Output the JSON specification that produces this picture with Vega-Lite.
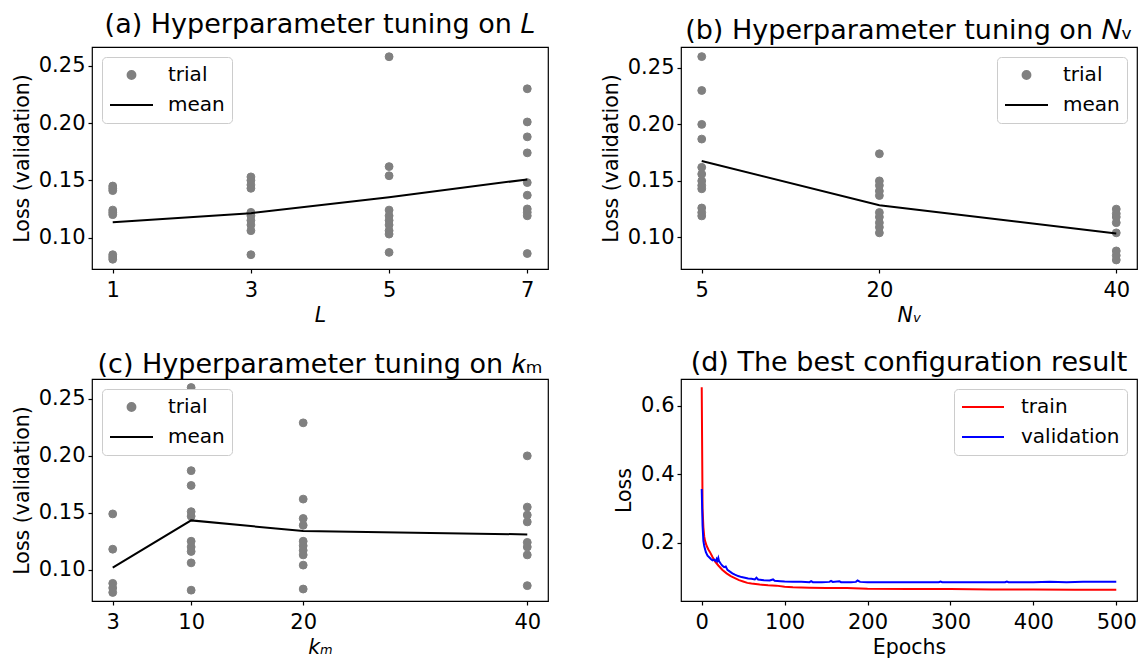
{
  "$schema": "https://vega.github.io/schema/vega-lite/v6.json",
  "background": "white",
  "padding": {"left": 11, "top": 10, "right": 5, "bottom": 5},
  "columns": 2,
  "spacing": {"row": 110, "column": 133},
  "bounds": "flush",
  "resolve": {"scale": {"shape": "independent", "color": "independent", "size": "independent"}, "legend": {"shape": "independent", "color": "independent", "size": "independent"}},
  "datasets": {
    "a_trial": [
      {"L": 1, "loss": 0.145, "series": "trial"}, {"L": 1, "loss": 0.143, "series": "trial"}, {"L": 1, "loss": 0.141, "series": "trial"},
      {"L": 1, "loss": 0.124, "series": "trial"}, {"L": 1, "loss": 0.122, "series": "trial"}, {"L": 1, "loss": 0.120, "series": "trial"},
      {"L": 1, "loss": 0.085, "series": "trial"}, {"L": 1, "loss": 0.083, "series": "trial"}, {"L": 1, "loss": 0.081, "series": "trial"},
      {"L": 3, "loss": 0.153, "series": "trial"}, {"L": 3, "loss": 0.150, "series": "trial"}, {"L": 3, "loss": 0.146, "series": "trial"},
      {"L": 3, "loss": 0.143, "series": "trial"}, {"L": 3, "loss": 0.122, "series": "trial"}, {"L": 3, "loss": 0.119, "series": "trial"},
      {"L": 3, "loss": 0.115, "series": "trial"}, {"L": 3, "loss": 0.111, "series": "trial"}, {"L": 3, "loss": 0.106, "series": "trial"},
      {"L": 3, "loss": 0.085, "series": "trial"},
      {"L": 5, "loss": 0.258, "series": "trial"}, {"L": 5, "loss": 0.162, "series": "trial"}, {"L": 5, "loss": 0.154, "series": "trial"},
      {"L": 5, "loss": 0.124, "series": "trial"}, {"L": 5, "loss": 0.119, "series": "trial"}, {"L": 5, "loss": 0.115, "series": "trial"},
      {"L": 5, "loss": 0.111, "series": "trial"}, {"L": 5, "loss": 0.106, "series": "trial"}, {"L": 5, "loss": 0.103, "series": "trial"},
      {"L": 5, "loss": 0.087, "series": "trial"},
      {"L": 7, "loss": 0.230, "series": "trial"}, {"L": 7, "loss": 0.201, "series": "trial"}, {"L": 7, "loss": 0.188, "series": "trial"},
      {"L": 7, "loss": 0.174, "series": "trial"}, {"L": 7, "loss": 0.148, "series": "trial"}, {"L": 7, "loss": 0.137, "series": "trial"},
      {"L": 7, "loss": 0.125, "series": "trial"}, {"L": 7, "loss": 0.122, "series": "trial"}, {"L": 7, "loss": 0.119, "series": "trial"},
      {"L": 7, "loss": 0.086, "series": "trial"}
    ],
    "a_mean": [
      {"L": 1, "loss": 0.1134}, {"L": 3, "loss": 0.1213}, {"L": 5, "loss": 0.1353}, {"L": 7, "loss": 0.1508}
    ],
    "b_trial": [
      {"Nv": 5, "loss": 0.260, "series": "trial"}, {"Nv": 5, "loss": 0.230, "series": "trial"}, {"Nv": 5, "loss": 0.200, "series": "trial"},
      {"Nv": 5, "loss": 0.187, "series": "trial"}, {"Nv": 5, "loss": 0.162, "series": "trial"}, {"Nv": 5, "loss": 0.156, "series": "trial"},
      {"Nv": 5, "loss": 0.150, "series": "trial"}, {"Nv": 5, "loss": 0.146, "series": "trial"}, {"Nv": 5, "loss": 0.143, "series": "trial"},
      {"Nv": 5, "loss": 0.126, "series": "trial"}, {"Nv": 5, "loss": 0.122, "series": "trial"}, {"Nv": 5, "loss": 0.119, "series": "trial"},
      {"Nv": 20, "loss": 0.174, "series": "trial"}, {"Nv": 20, "loss": 0.150, "series": "trial"}, {"Nv": 20, "loss": 0.146, "series": "trial"},
      {"Nv": 20, "loss": 0.141, "series": "trial"}, {"Nv": 20, "loss": 0.137, "series": "trial"}, {"Nv": 20, "loss": 0.122, "series": "trial"},
      {"Nv": 20, "loss": 0.118, "series": "trial"}, {"Nv": 20, "loss": 0.113, "series": "trial"}, {"Nv": 20, "loss": 0.109, "series": "trial"},
      {"Nv": 20, "loss": 0.104, "series": "trial"},
      {"Nv": 40, "loss": 0.125, "series": "trial"}, {"Nv": 40, "loss": 0.121, "series": "trial"}, {"Nv": 40, "loss": 0.118, "series": "trial"},
      {"Nv": 40, "loss": 0.113, "series": "trial"}, {"Nv": 40, "loss": 0.104, "series": "trial"}, {"Nv": 40, "loss": 0.088, "series": "trial"},
      {"Nv": 40, "loss": 0.084, "series": "trial"}, {"Nv": 40, "loss": 0.080, "series": "trial"}
    ],
    "b_mean": [
      {"Nv": 5, "loss": 0.1676}, {"Nv": 20, "loss": 0.1285}, {"Nv": 40, "loss": 0.1035}
    ],
    "c_trial": [
      {"km": 3, "loss": 0.149, "series": "trial"}, {"km": 3, "loss": 0.118, "series": "trial"}, {"km": 3, "loss": 0.088, "series": "trial"},
      {"km": 3, "loss": 0.084, "series": "trial"}, {"km": 3, "loss": 0.080, "series": "trial"},
      {"km": 10, "loss": 0.260, "series": "trial"}, {"km": 10, "loss": 0.187, "series": "trial"}, {"km": 10, "loss": 0.174, "series": "trial"},
      {"km": 10, "loss": 0.151, "series": "trial"}, {"km": 10, "loss": 0.147, "series": "trial"}, {"km": 10, "loss": 0.125, "series": "trial"},
      {"km": 10, "loss": 0.120, "series": "trial"}, {"km": 10, "loss": 0.116, "series": "trial"}, {"km": 10, "loss": 0.106, "series": "trial"},
      {"km": 10, "loss": 0.082, "series": "trial"},
      {"km": 20, "loss": 0.229, "series": "trial"}, {"km": 20, "loss": 0.162, "series": "trial"}, {"km": 20, "loss": 0.145, "series": "trial"},
      {"km": 20, "loss": 0.139, "series": "trial"}, {"km": 20, "loss": 0.125, "series": "trial"}, {"km": 20, "loss": 0.121, "series": "trial"},
      {"km": 20, "loss": 0.117, "series": "trial"}, {"km": 20, "loss": 0.113, "series": "trial"}, {"km": 20, "loss": 0.104, "series": "trial"},
      {"km": 20, "loss": 0.083, "series": "trial"},
      {"km": 40, "loss": 0.200, "series": "trial"}, {"km": 40, "loss": 0.155, "series": "trial"}, {"km": 40, "loss": 0.148, "series": "trial"},
      {"km": 40, "loss": 0.142, "series": "trial"}, {"km": 40, "loss": 0.124, "series": "trial"}, {"km": 40, "loss": 0.120, "series": "trial"},
      {"km": 40, "loss": 0.113, "series": "trial"}, {"km": 40, "loss": 0.086, "series": "trial"}
    ],
    "c_mean": [
      {"km": 3, "loss": 0.1018}, {"km": 10, "loss": 0.1433}, {"km": 20, "loss": 0.1339}, {"km": 40, "loss": 0.131}
    ],
    "d_loss": [
      {"epoch": 0, "loss": 0.655, "series": "train"}, {"epoch": 1, "loss": 0.300, "series": "train"}, {"epoch": 2, "loss": 0.245, "series": "train"},
      {"epoch": 3, "loss": 0.218, "series": "train"}, {"epoch": 4, "loss": 0.205, "series": "train"}, {"epoch": 6, "loss": 0.190, "series": "train"},
      {"epoch": 8, "loss": 0.180, "series": "train"}, {"epoch": 10, "loss": 0.172, "series": "train"}, {"epoch": 13, "loss": 0.158, "series": "train"},
      {"epoch": 16, "loss": 0.145, "series": "train"}, {"epoch": 20, "loss": 0.133, "series": "train"}, {"epoch": 25, "loss": 0.120, "series": "train"},
      {"epoch": 30, "loss": 0.110, "series": "train"}, {"epoch": 35, "loss": 0.102, "series": "train"}, {"epoch": 40, "loss": 0.096, "series": "train"},
      {"epoch": 45, "loss": 0.090, "series": "train"}, {"epoch": 50, "loss": 0.086, "series": "train"}, {"epoch": 55, "loss": 0.082, "series": "train"},
      {"epoch": 60, "loss": 0.080, "series": "train"}, {"epoch": 70, "loss": 0.077, "series": "train"}, {"epoch": 80, "loss": 0.075, "series": "train"},
      {"epoch": 90, "loss": 0.074, "series": "train"}, {"epoch": 100, "loss": 0.071, "series": "train"}, {"epoch": 110, "loss": 0.069, "series": "train"},
      {"epoch": 130, "loss": 0.068, "series": "train"}, {"epoch": 150, "loss": 0.067, "series": "train"}, {"epoch": 175, "loss": 0.067, "series": "train"},
      {"epoch": 200, "loss": 0.065, "series": "train"}, {"epoch": 250, "loss": 0.064, "series": "train"}, {"epoch": 300, "loss": 0.064, "series": "train"},
      {"epoch": 350, "loss": 0.063, "series": "train"}, {"epoch": 400, "loss": 0.063, "series": "train"}, {"epoch": 450, "loss": 0.062, "series": "train"},
      {"epoch": 500, "loss": 0.062, "series": "train"},
      {"epoch": 0, "loss": 0.357, "series": "validation"}, {"epoch": 1, "loss": 0.250, "series": "validation"}, {"epoch": 2, "loss": 0.205, "series": "validation"},
      {"epoch": 3, "loss": 0.190, "series": "validation"}, {"epoch": 5, "loss": 0.172, "series": "validation"}, {"epoch": 7, "loss": 0.162, "series": "validation"},
      {"epoch": 9, "loss": 0.157, "series": "validation"}, {"epoch": 11, "loss": 0.152, "series": "validation"}, {"epoch": 13, "loss": 0.148, "series": "validation"},
      {"epoch": 15, "loss": 0.150, "series": "validation"}, {"epoch": 17, "loss": 0.146, "series": "validation"}, {"epoch": 18, "loss": 0.152, "series": "validation"},
      {"epoch": 19, "loss": 0.147, "series": "validation"}, {"epoch": 20, "loss": 0.155, "series": "validation"}, {"epoch": 21, "loss": 0.145, "series": "validation"},
      {"epoch": 23, "loss": 0.138, "series": "validation"}, {"epoch": 25, "loss": 0.132, "series": "validation"}, {"epoch": 27, "loss": 0.128, "series": "validation"},
      {"epoch": 29, "loss": 0.130, "series": "validation"}, {"epoch": 31, "loss": 0.120, "series": "validation"}, {"epoch": 34, "loss": 0.115, "series": "validation"},
      {"epoch": 37, "loss": 0.110, "series": "validation"}, {"epoch": 40, "loss": 0.106, "series": "validation"}, {"epoch": 44, "loss": 0.102, "series": "validation"},
      {"epoch": 48, "loss": 0.099, "series": "validation"}, {"epoch": 52, "loss": 0.097, "series": "validation"}, {"epoch": 56, "loss": 0.095, "series": "validation"},
      {"epoch": 60, "loss": 0.094, "series": "validation"}, {"epoch": 64, "loss": 0.092, "series": "validation"}, {"epoch": 66, "loss": 0.097, "series": "validation"},
      {"epoch": 68, "loss": 0.092, "series": "validation"}, {"epoch": 75, "loss": 0.090, "series": "validation"}, {"epoch": 82, "loss": 0.089, "series": "validation"},
      {"epoch": 86, "loss": 0.092, "series": "validation"}, {"epoch": 88, "loss": 0.088, "series": "validation"}, {"epoch": 95, "loss": 0.087, "series": "validation"},
      {"epoch": 100, "loss": 0.086, "series": "validation"}, {"epoch": 110, "loss": 0.085, "series": "validation"}, {"epoch": 120, "loss": 0.085, "series": "validation"},
      {"epoch": 130, "loss": 0.084, "series": "validation"}, {"epoch": 132, "loss": 0.087, "series": "validation"}, {"epoch": 134, "loss": 0.084, "series": "validation"},
      {"epoch": 145, "loss": 0.084, "series": "validation"}, {"epoch": 154, "loss": 0.085, "series": "validation"}, {"epoch": 156, "loss": 0.088, "series": "validation"},
      {"epoch": 158, "loss": 0.085, "series": "validation"}, {"epoch": 166, "loss": 0.087, "series": "validation"}, {"epoch": 168, "loss": 0.084, "series": "validation"},
      {"epoch": 180, "loss": 0.084, "series": "validation"}, {"epoch": 186, "loss": 0.085, "series": "validation"}, {"epoch": 188, "loss": 0.089, "series": "validation"},
      {"epoch": 191, "loss": 0.085, "series": "validation"}, {"epoch": 200, "loss": 0.084, "series": "validation"}, {"epoch": 220, "loss": 0.084, "series": "validation"},
      {"epoch": 240, "loss": 0.084, "series": "validation"}, {"epoch": 260, "loss": 0.084, "series": "validation"}, {"epoch": 286, "loss": 0.084, "series": "validation"},
      {"epoch": 288, "loss": 0.086, "series": "validation"}, {"epoch": 290, "loss": 0.084, "series": "validation"}, {"epoch": 320, "loss": 0.084, "series": "validation"},
      {"epoch": 340, "loss": 0.084, "series": "validation"}, {"epoch": 366, "loss": 0.084, "series": "validation"}, {"epoch": 368, "loss": 0.086, "series": "validation"},
      {"epoch": 370, "loss": 0.084, "series": "validation"}, {"epoch": 400, "loss": 0.084, "series": "validation"}, {"epoch": 420, "loss": 0.085, "series": "validation"},
      {"epoch": 440, "loss": 0.084, "series": "validation"}, {"epoch": 460, "loss": 0.085, "series": "validation"}, {"epoch": 480, "loss": 0.085, "series": "validation"},
      {"epoch": 500, "loss": 0.085, "series": "validation"}
    ]
  },
  "concat": [
    {
      "width": 456, "height": 222,
      "title": {"text": "(a) Hyperparameter tuning on 𝐿", "offset": 8},
      "layer": [
        {
          "data": {"name": "a_trial"},
          "mark": {"type": "point", "filled": false, "fill": "#808080", "fillOpacity": 1, "strokeWidth": 1, "opacity": 1},
          "encoding": {
            "x": {"field": "L", "type": "quantitative", "scale": {"domain": [0.7, 7.3], "nice": false, "zero": false}, "axis": {"values": [1, 3, 5, 7], "format": "d", "title": "L", "titleFontStyle": "italic"}},
            "y": {"field": "loss", "type": "quantitative", "scale": {"domain": [0.0725, 0.2665], "nice": false, "zero": false}, "axis": {"values": [0.1, 0.15, 0.2, 0.25], "format": ".2f", "title": "Loss (validation)"}},
            "color": {"field": "series", "type": "nominal", "scale": {"domain": ["trial", "mean"], "range": ["#808080", "#000000"]}},
            "size": {"field": "series", "type": "nominal", "scale": {"domain": ["trial", "mean"], "range": [62, 1849], "padding": 0}},
            "shape": {"field": "series", "type": "nominal", "scale": {"domain": ["trial", "mean"], "range": ["circle", "stroke"]},
              "legend": {"title": null, "orient": "top-left", "offset": 10, "fillColor": "white", "strokeColor": "#cccccc", "cornerRadius": 4, "padding": 7, "clipHeight": 22, "rowPadding": 8, "labelFontSize": 20, "labelOffset": 14, "labelColor": "black", "symbolStrokeWidth": 2}}
          }
        },
        {
          "data": {"name": "a_mean"},
          "mark": {"type": "line", "color": "black", "strokeWidth": 2},
          "encoding": {"x": {"field": "L", "type": "quantitative"}, "y": {"field": "loss", "type": "quantitative"}}
        }
      ]
    },
    {
      "width": 456, "height": 222,
      "title": {"text": "(b) Hyperparameter tuning on 𝑁ᵥ", "offset": 2},
      "layer": [
        {
          "data": {"name": "b_trial"},
          "mark": {"type": "point", "filled": false, "fill": "#808080", "fillOpacity": 1, "strokeWidth": 1, "opacity": 1},
          "encoding": {
            "x": {"field": "Nv", "type": "quantitative", "scale": {"domain": [3.25, 41.75], "nice": false, "zero": false}, "axis": {"values": [5, 20, 40], "format": "d", "title": "Nᵥ", "titleFontStyle": "italic"}},
            "y": {"field": "loss", "type": "quantitative", "scale": {"domain": [0.072, 0.2685], "nice": false, "zero": false}, "axis": {"values": [0.1, 0.15, 0.2, 0.25], "format": ".2f", "title": "Loss (validation)"}},
            "color": {"field": "series", "type": "nominal", "scale": {"domain": ["trial", "mean"], "range": ["#808080", "#000000"]}},
            "size": {"field": "series", "type": "nominal", "scale": {"domain": ["trial", "mean"], "range": [62, 1849], "padding": 0}},
            "shape": {"field": "series", "type": "nominal", "scale": {"domain": ["trial", "mean"], "range": ["circle", "stroke"]},
              "legend": {"title": null, "orient": "top-right", "offset": 10, "fillColor": "white", "strokeColor": "#cccccc", "cornerRadius": 4, "padding": 7, "clipHeight": 22, "rowPadding": 8, "labelFontSize": 20, "labelOffset": 14, "labelColor": "black", "symbolStrokeWidth": 2}}
          }
        },
        {
          "data": {"name": "b_mean"},
          "mark": {"type": "line", "color": "black", "strokeWidth": 2},
          "encoding": {"x": {"field": "Nv", "type": "quantitative"}, "y": {"field": "loss", "type": "quantitative"}}
        }
      ]
    },
    {
      "width": 456, "height": 222,
      "title": {"text": "(c) Hyperparameter tuning on 𝑘ₘ", "offset": 0},
      "layer": [
        {
          "data": {"name": "c_trial"},
          "mark": {"type": "point", "filled": false, "fill": "#808080", "fillOpacity": 1, "strokeWidth": 1, "opacity": 1},
          "encoding": {
            "x": {"field": "km", "type": "quantitative", "scale": {"domain": [1.15, 41.85], "nice": false, "zero": false}, "axis": {"values": [3, 10, 20, 40], "format": "d", "title": "kₘ", "titleFontStyle": "italic"}},
            "y": {"field": "loss", "type": "quantitative", "scale": {"domain": [0.0725, 0.2675], "nice": false, "zero": false}, "axis": {"values": [0.1, 0.15, 0.2, 0.25], "format": ".2f", "title": "Loss (validation)"}},
            "color": {"field": "series", "type": "nominal", "scale": {"domain": ["trial", "mean"], "range": ["#808080", "#000000"]}},
            "size": {"field": "series", "type": "nominal", "scale": {"domain": ["trial", "mean"], "range": [62, 1849], "padding": 0}},
            "shape": {"field": "series", "type": "nominal", "scale": {"domain": ["trial", "mean"], "range": ["circle", "stroke"]},
              "legend": {"title": null, "orient": "top-left", "offset": 10, "fillColor": "white", "strokeColor": "#cccccc", "cornerRadius": 4, "padding": 7, "clipHeight": 22, "rowPadding": 8, "labelFontSize": 20, "labelOffset": 14, "labelColor": "black", "symbolStrokeWidth": 2}}
          }
        },
        {
          "data": {"name": "c_mean"},
          "mark": {"type": "line", "color": "black", "strokeWidth": 2},
          "encoding": {"x": {"field": "km", "type": "quantitative"}, "y": {"field": "loss", "type": "quantitative"}}
        }
      ]
    },
    {
      "width": 456, "height": 222,
      "title": {"text": "(d) The best configuration result", "offset": 2},
      "data": {"name": "d_loss"},
      "mark": {"type": "line", "strokeWidth": 2},
      "encoding": {
        "x": {"field": "epoch", "type": "quantitative", "scale": {"domain": [-25, 525], "nice": false, "zero": false}, "axis": {"values": [0, 100, 200, 300, 400, 500], "format": "d", "title": "Epochs"}},
        "y": {"field": "loss", "type": "quantitative", "scale": {"domain": [0.029, 0.679], "nice": false, "zero": false}, "axis": {"values": [0.2, 0.4, 0.6], "format": ".1f", "title": "Loss"}},
        "color": {"field": "series", "type": "nominal", "scale": {"domain": ["train", "validation"], "range": ["#ff0000", "#0000ff"]},
          "legend": {"title": null, "orient": "top-right", "offset": 10, "fillColor": "white", "strokeColor": "#cccccc", "cornerRadius": 4, "padding": 7, "symbolSize": 1764, "clipHeight": 22, "rowPadding": 8, "labelFontSize": 20, "labelOffset": 16, "labelColor": "black", "symbolStrokeWidth": 2, "symbolType": "stroke"}}
      }
    }
  ],
  "config": {
    "font": "DejaVu Sans",
    "view": {"stroke": "black", "strokeWidth": 1.2},
    "axis": {"grid": false, "domain": false, "tickColor": "black", "tickSize": 4, "tickWidth": 1.2, "labelFont": "DejaVu Sans", "labelFontSize": 21, "labelColor": "black", "labelPadding": 3, "titleFont": "DejaVu Sans", "titleFontSize": 20.5, "titleFontWeight": "normal", "titleColor": "black", "labelFlush": false, "labelOverlap": false},
    "axisX": {"labelPadding": 6, "titlePadding": 5},
    "axisY": {"titlePadding": 6},
    "title": {"font": "DejaVu Sans", "fontSize": 27, "fontWeight": "normal", "color": "black"},
    "legend": {"labelFont": "DejaVu Sans"}
  }
}
